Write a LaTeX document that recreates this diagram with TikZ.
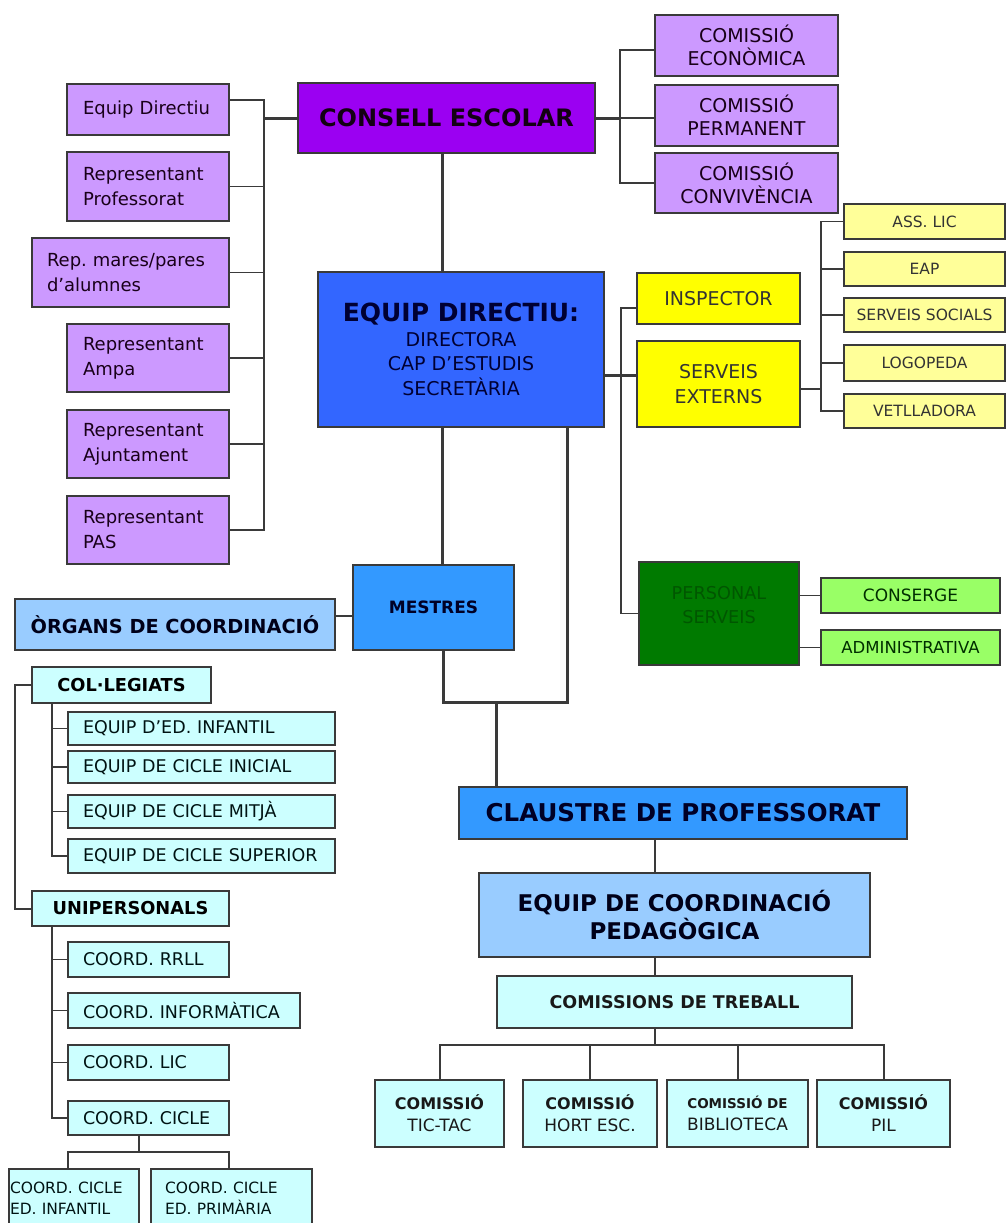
\documentclass[tikz,border=0pt]{standalone}
\usepackage{fontspec}
\setmainfont{DejaVu Sans}
\frenchspacing
\newcommand\fs[2]{\fontsize{#1}{#2}\selectfont}
\newcommand\cbox[7]{%
 \pgfmathsetmacro\myW{#4-#2}\pgfmathsetmacro\myH{#5-#3}%
 \pgfmathsetmacro\myX{(#2+#4)/2}\pgfmathsetmacro\myY{(#3+#5)/2}%
 \node[boxbase,#1,minimum width=\myW pt,minimum height=\myH pt,align=center] (#6) at (\myX,\myY) {#7};}
\newcommand\lbox[8]{%
 \pgfmathsetmacro\myW{#4-#2}\pgfmathsetmacro\myH{#5-#3}%
 \pgfmathsetmacro\myX{(#2+#4)/2}\pgfmathsetmacro\myY{(#3+#5)/2}%
 \pgfmathsetmacro\myT{#4-#2-2*#8}%
 \node[boxbase,#1,minimum width=\myW pt,minimum height=\myH pt,text width=\myT pt,align=left] (#6) at (\myX,\myY) {#7};}
\definecolor{lilac}{HTML}{CC99FF}
\definecolor{vpurple}{HTML}{9B00F2}
\definecolor{royal}{HTML}{3366FF}
\definecolor{midblue}{HTML}{3399FF}
\definecolor{paleblue}{HTML}{99CCFF}
\definecolor{palecyan}{HTML}{CCFFFF}
\definecolor{yel}{HTML}{FFFF00}
\definecolor{paleyel}{HTML}{FFFF99}
\definecolor{dgreen}{HTML}{007A00}
\definecolor{lgreen}{HTML}{99FF66}
\definecolor{edge}{HTML}{3A3A3A}
\begin{document}
\begin{tikzpicture}[x=1pt,y=-1pt,
  boxbase/.style={draw=edge,line width=1.5pt,inner sep=0pt,outer sep=0pt,rectangle},
  pbox/.style={fill=lilac,text=black!80!violet,font=\fs{18}{25}},
  cbx/.style={fill=lilac,text=black!80!violet,font=\fs{19}{23}},
  cyanb/.style={fill=palecyan,text=black!85!teal,font=\fs{17.5}{21}},
  cyanbold/.style={fill=palecyan,text=black,font=\fs{17.8}{21}\bfseries},
  yb/.style={fill=paleyel,text=black!80,font=\fs{15.5}{19}},
  botb/.style={fill=palecyan,text=black!90,font=\fs{17}{22}},
  conn/.style={draw=edge,line width=1.3pt},
  mconn/.style={draw=edge,line width=2pt},
  tconn/.style={draw=edge,line width=3pt}]
\useasboundingbox (0,0) rectangle (1008,1223);
\clip (0,0) rectangle (1008,1223);
\fill[white] (0,0) rectangle (1008,1223);

% ---- Consell escolar group
\cbox{fill=vpurple,text=black!85!violet,font=\fs{24}{30}\bfseries}{298}{83}{595}{153}{consell}{CONSELL ESCOLAR}
\lbox{pbox}{67}{84}{229}{135}{s1}{Equip Directiu}{16}
\lbox{pbox}{67}{152}{229}{221}{s2}{Representant\\Professorat}{16}
\lbox{pbox}{32}{238}{229}{307}{s3}{Rep. mares/pares\\d’alumnes}{15}
\lbox{pbox}{67}{324}{229}{392}{s4}{Representant\\Ampa}{16}
\lbox{pbox}{67}{410}{229}{478}{s5}{Representant\\Ajuntament}{16}
\lbox{pbox}{67}{496}{229}{564}{s6}{Representant\\PAS}{16}
\cbox{cbx}{655}{15}{838}{76}{c1}{COMISSIÓ\\ECONÒMICA}
\cbox{cbx}{655}{85}{838}{146}{c2}{COMISSIÓ\\PERMANENT}
\cbox{cbx}{655}{153}{838}{213}{c3}{COMISSIÓ\\CONVIVÈNCIA}

% ---- Equip directiu and externals
\cbox{fill=royal,text=black!80!blue,font=\fs{19}{24.5}}{318}{272}{604}{427}{ed}{{\fs{25}{30}\bfseries EQUIP DIRECTIU:}\\DIRECTORA\\CAP D’ESTUDIS\\SECRETÀRIA}
\cbox{fill=yel,text=black!80,font=\fs{19}{25}}{637}{273}{800}{324}{insp}{INSPECTOR}
\cbox{fill=yel,text=black!80,font=\fs{19}{25}}{637}{341}{800}{427}{se}{SERVEIS\\EXTERNS}
\cbox{yb}{844}{204}{1005}{239}{ya}{ASS. LIC}
\cbox{yb}{844}{252}{1005}{286}{ybb}{EAP}
\cbox{yb}{844}{298}{1005}{332}{yc}{SERVEIS SOCIALS}
\cbox{yb}{844}{345}{1005}{381}{yd}{LOGOPEDA}
\cbox{yb}{844}{394}{1005}{428}{ye}{VETLLADORA}
\cbox{fill=dgreen}{639}{562}{799}{665}{ps}{}
\node[text=black!55!green!75!black,font=\fs{17.7}{24},align=center,inner sep=0pt] (pst) at (719,605) {PERSONAL\\SERVEIS};
\cbox{fill=lgreen,text=black!70!green!60!black,font=\fs{17}{21}}{821}{578}{1000}{613}{cons}{CONSERGE}
\cbox{fill=lgreen,text=black!70!green!60!black,font=\fs{16.5}{19}}{821}{630}{1000}{665}{adm}{ADMINISTRATIVA}

% ---- Mestres and coordination organs
\cbox{fill=midblue,text=black!85!blue,font=\fs{17}{21}\bfseries}{353}{565}{514}{650}{mestres}{MESTRES}
\cbox{fill=paleblue,text=black!90!blue,font=\fs{19.3}{23}\bfseries}{15}{599}{335}{650}{org}{ÒRGANS DE COORDINACIÓ}
\cbox{cyanbold}{32}{667}{211}{703}{col}{COL·LEGIATS}
\lbox{cyanb}{68}{712}{335}{745}{e1}{EQUIP D’ED. INFANTIL}{15}
\lbox{cyanb}{68}{751}{335}{783}{e2}{EQUIP DE CICLE INICIAL}{15}
\lbox{cyanb}{68}{795}{335}{828}{e3}{EQUIP DE CICLE MITJÀ}{15}
\lbox{cyanb}{68}{839}{335}{873}{e4}{EQUIP DE CICLE SUPERIOR}{15}
\cbox{cyanbold}{32}{891}{229}{926}{uni}{UNIPERSONALS}
\lbox{cyanb}{68}{942}{229}{977}{k1}{COORD. RRLL}{15}
\lbox{cyanb}{68}{993}{300}{1028}{k2}{COORD. INFORMÀTICA}{15}
\lbox{cyanb}{68}{1045}{229}{1080}{k3}{COORD. LIC}{15}
\lbox{cyanb}{68}{1101}{229}{1135}{k4}{COORD. CICLE}{15}
\lbox{cyanb,font=\fs{15.5}{21}}{9}{1169}{139}{1228}{ci1}{COORD. CICLE\\ED. INFANTIL}{1}
\lbox{cyanb,font=\fs{15.5}{21}}{151}{1169}{312}{1228}{ci2}{COORD. CICLE\\ED. PRIMÀRIA}{14}

% ---- Claustre and pedagogical coordination
\cbox{fill=midblue,text=black!85!blue,font=\fs{24.5}{30}\bfseries}{459}{787}{907}{839}{claus}{CLAUSTRE DE PROFESSORAT}
\cbox{fill=paleblue,text=black!90!blue,font=\fs{23}{28}\bfseries}{479}{873}{870}{957}{epc}{EQUIP DE COORDINACIÓ\\PEDAGÒGICA}
\cbox{fill=palecyan,text=black!90,font=\fs{17.5}{20}\bfseries}{497}{976}{852}{1028}{ct}{COMISSIONS DE TREBALL}
\cbox{botb}{375}{1080}{504}{1147}{b1}{{\fs{16}{22}\bfseries COMISSIÓ}\\TIC-TAC}
\cbox{botb}{523}{1080}{657}{1147}{b2}{{\fs{16}{22}\bfseries COMISSIÓ}\\HORT ESC.}
\cbox{botb}{667}{1080}{808}{1147}{b3}{{\fs{13.5}{22}\bfseries COMISSIÓ DE}\\BIBLIOTECA}
\cbox{botb}{817}{1080}{950}{1147}{b4}{{\fs{16}{22}\bfseries COMISSIÓ}\\PIL}

% ---- connector coordinates
\coordinate (spL) at (264,100);
\coordinate (spR) at (620,50);
\coordinate (vx1) at (442,0);
\coordinate (spE) at (621,308);
\coordinate (spY) at (821,0);
\coordinate (j1) at (567,702);
\coordinate (j2) at (443,702);
\coordinate (j3) at (496,702);
\coordinate (spO) at (15,0);
\coordinate (spC) at (52,0);
\coordinate (cc) at (139,1152);
\coordinate (vx2) at (655,0);
\coordinate (bus) at (655,1045);

% ---- connectors: consell
\draw[conn] ([yshift=9.5pt]s1.east) -- (spL) -- (spL |- s6.east) -- (s6.east);
\foreach \n in {s2,s3,s4,s5} \draw[conn] (\n.east) -- (\n.east -| spL);
\draw[tconn] (consell.west) -- (consell.west -| spL);
\draw[conn] ([yshift=-4.5pt]c1.west) -- (spR) -- (spR |- c3.west) -- (c3.west);
\draw[conn] (consell.east -| spR) -- (consell.east -| c2.west);
\draw[tconn] (consell.east) -- (consell.east -| spR);
\draw[tconn] (consell.south -| vx1) -- (ed.north -| vx1);

% ---- connectors: equip directiu
\draw[tconn] (ed.south -| vx1) -- (mestres.north -| vx1);
\draw[tconn] (ed.south -| j1) -- (j1) -- (j2) -- (mestres.south -| j2);
\draw[tconn] (j3) -- (claus.north -| j3);
\draw[tconn] ([yshift=-25.5pt]ed.east) -- ([yshift=9pt]se.west);
\draw[conn] ([yshift=-9.5pt]insp.west) -- (spE) |- (ps.west);
\draw[conn] (ya.west) -- (ya.west -| spY) -- (ye.west -| spY) -- (ye.west);
\foreach \n in {ybb,yc,yd} \draw[conn] (\n.west) -- (\n.west -| spY);
\draw[conn] ([yshift=-5pt]se.east) -- ([yshift=-5pt]se.east -| spY);
\draw[conn] (cons.west) -- (cons.west -| ps.east);
\draw[conn] (adm.west) -- (adm.west -| ps.east);

% ---- connectors: organs
\draw[mconn] ([yshift=8.5pt]org.east) -- ([yshift=8.5pt]org.east -| mestres.west);
\draw[mconn] (col.west) -- (col.west -| spO) -- (uni.west -| spO) -- (uni.west);
\draw[conn] (col.south -| spC) -- (e4.west -| spC) -- (e4.west);
\foreach \n in {e1,e2,e3} \draw[conn] (\n.west) -- (\n.west -| spC);
\draw[conn] (uni.south -| spC) -- (k4.west -| spC) -- (k4.west);
\foreach \n in {k1,k2,k3} \draw[conn] (\n.west) -- (\n.west -| spC);
\draw[conn] (k4.south -| cc) -- (cc);
\draw[conn] (ci1.north -| 68,0) |- (cc) -| (ci2.north -| 229,0);

% ---- connectors: claustre
\draw[mconn] (claus.south -| vx2) -- (epc.north -| vx2);
\draw[mconn] (epc.south -| vx2) -- (ct.north -| vx2);
\draw[mconn] (ct.south -| vx2) -- (bus);
\draw[mconn] (b1.north) |- (bus) -| (b4.north);
\draw[mconn] (b2.north) -- (b2.north |- bus);
\draw[mconn] (b3.north) -- (b3.north |- bus);
\end{tikzpicture}
\end{document}
